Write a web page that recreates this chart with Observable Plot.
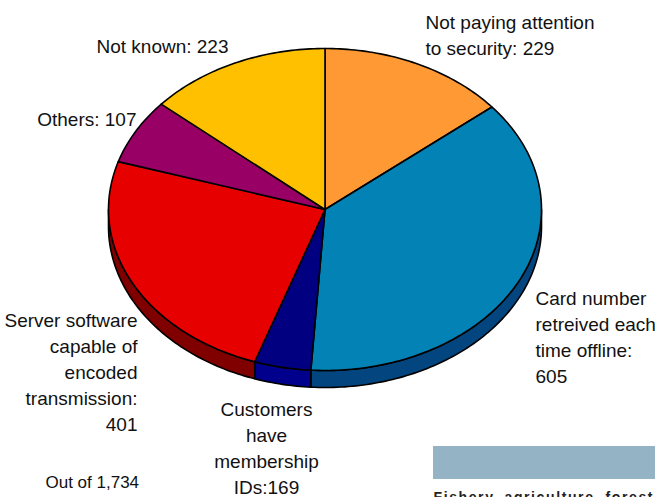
<!DOCTYPE html>
<html>
<head>
<meta charset="utf-8">
<script src="https://cdn.jsdelivr.net/npm/d3@7"></script>
<script src="https://cdn.jsdelivr.net/npm/@observablehq/plot@0.6"></script>
<style>
  html, body { margin: 0; padding: 0; background: #fff; overflow: hidden; }
  #chart svg { display: block; }
</style>
</head>
<body>
<div id="chart"></div>
<script>
// ---- data ----
const categories = [
  "Not paying attention to security",
  "Card number retreived each time offline",
  "Customers have membership IDs",
  "Server software capable of encoded transmission",
  "Others",
  "Not known"
];
// wedge sizes as drawn in the picture (the "Customers" wedge is drawn as ~69)
const sliceValues = [229, 605, 69, 401, 107, 223];
// numbers printed on the labels
const labelValues = [229, 605, 169, 401, 107, 223];
const labelTexts = [
  "Not paying attention\nto security: 229",
  "Card number\nretreived each\ntime offline:\n605",
  "Customers\nhave\nmembership\nIDs:169",
  "Server software\ncapable of\nencoded\ntransmission:\n401",
  "Others: 107",
  "Not known: 223"
];
const topColors = ["#FF9933", "#0382B5", "#000080", "#E60000", "#990066", "#FFC000"];
const sideColors = ["#CC7A29", "#03467F", "#00008C", "#800000", "#660044", "#CC9A00"];
const totalText = "Out of 1,734";
const footerText = "Fishery, agriculture, forest";

// ---- layout ----
const W = 655, H = 497;
const cx = 324.5, cy = 209, rx = 216.5, ry = 161, depth = 17;
const rad = Math.PI / 180;
const px = t => cx + rx * Math.sin(t * rad);
const py = (t, d = 0) => cy - ry * Math.cos(t * rad) + d;

const total = d3.sum(sliceValues);
let acc = 0;
const slices = sliceValues.map((v, i) => {
  const a0 = acc / total * 360;
  acc += v;
  const a1 = acc / total * 360;
  return {i, a0, a1};
});

function arc(a0, a1, d) {
  const n = Math.max(2, Math.ceil(Math.abs(a1 - a0)));
  return d3.range(n + 1).map(k => {
    const t = a0 + (a1 - a0) * k / n;
    return [px(t), py(t, d)];
  });
}

const sidePts = [];
const topPts = [];
slices.forEach(s => {
  // side wall (visible front half: 90..270 degrees)
  const b0 = Math.max(s.a0, 90), b1 = Math.min(s.a1, 270);
  if (b1 > b0) {
    const pts = arc(b0, b1, 0).concat(arc(b1, b0, depth));
    pts.push(pts[0]);
    pts.forEach(([x, y]) => sidePts.push({id: "s" + s.i, x, y, c: sideColors[s.i]}));
  }
  const pts = [[cx, cy]].concat(arc(s.a0, s.a1, 0));
  pts.push([cx, cy]);
  pts.forEach(([x, y]) => topPts.push({id: "t" + s.i, x, y, c: topColors[s.i]}));
});

// label placement (layout only)
const labelPos = [
  {x: 425, y: 10.5, anchor: "start"},
  {x: 535, y: 286.5, anchor: "start"},
  {x: 266, y: 397.5, anchor: "middle"},
  {x: 137, y: 308.5, anchor: "end"},
  {x: 136, y: 107.5, anchor: "end"},
  {x: 228, y: 34.5, anchor: "end"}
];

const font = "'Liberation Sans', Arial, sans-serif";
const labelMarks = labelTexts.map((txt, i) =>
  Plot.text([txt], {
    x: () => labelPos[i].x, y: () => labelPos[i].y, text: d => d,
    textAnchor: labelPos[i].anchor, lineAnchor: "top",
    fontSize: 19, lineHeight: 26 / 19, fill: "#111", fontFamily: font
  })
);

const plot = Plot.plot({
  width: W, height: H,
  marginTop: 0, marginRight: 0, marginBottom: 0, marginLeft: 0,
  x: {domain: [0, W], range: [0, W], axis: null},
  y: {domain: [0, H], range: [0, H], axis: null},
  color: {type: "identity"},
  style: {fontFamily: font, background: "#fff", overflow: "hidden"},
  marks: [
    Plot.rect([0], {x1: () => 433, x2: () => 655, y1: () => 446, y2: () => 479, fill: "#94B3C5"}),
    Plot.line(sidePts, {x: "x", y: "y", z: "id", fill: "c", stroke: "#000", strokeWidth: 1.6, strokeLinejoin: "round"}),
    Plot.line(topPts, {x: "x", y: "y", z: "id", fill: "c", stroke: "#000", strokeWidth: 1.6, strokeLinejoin: "round"}),
    ...labelMarks,
    Plot.text([totalText], {x: () => 45, y: () => 475, text: d => d, textAnchor: "start", lineAnchor: "top", fontSize: 17, fill: "#111", fontFamily: font}),
    Plot.text([footerText], {x: () => 433, y: () => 492, text: d => d, textAnchor: "start", lineAnchor: "top", fontSize: 14, fill: "#222", fontFamily: font, fontWeight: "bold", className: "footer"})
  ]
});
d3.select(plot).selectAll(".footer text").attr("textLength", 219).attr("lengthAdjust", "spacing");
document.getElementById("chart").appendChild(plot);
</script>
</body>
</html>
